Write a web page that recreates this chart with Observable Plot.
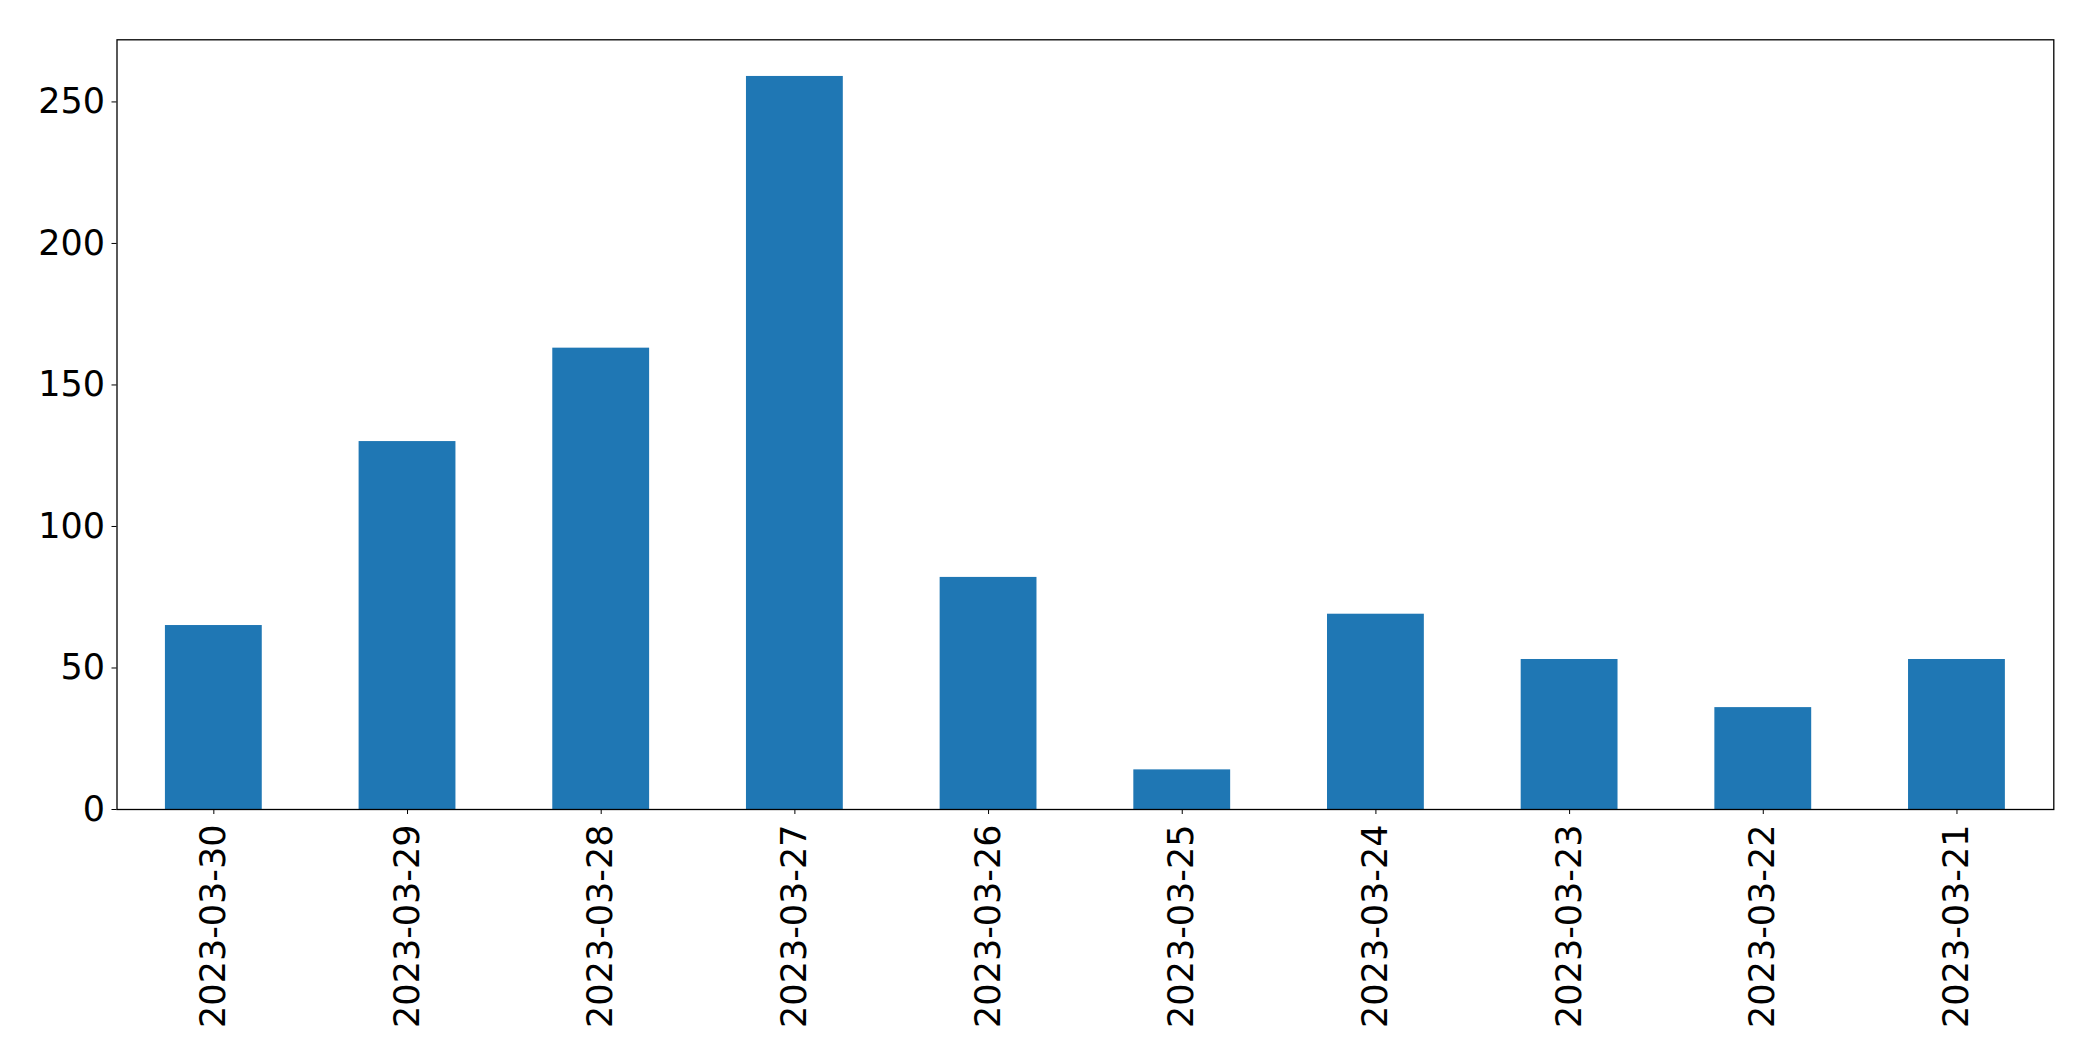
<!DOCTYPE html>
<html>
<head>
<meta charset="utf-8">
<script src="https://cdn.jsdelivr.net/npm/d3@7"></script>
<script src="https://cdn.jsdelivr.net/npm/@observablehq/plot@0.6"></script>
<style>
  html, body { margin: 0; padding: 0; background: #fff; }
  #chart svg { display: block; }
</style>
</head>
<body>
<div id="chart"></div>
<script>
const dates = ["2023-03-30", "2023-03-29", "2023-03-28", "2023-03-27", "2023-03-26",
               "2023-03-25", "2023-03-24", "2023-03-23", "2023-03-22", "2023-03-21"];
const counts = [65, 130, 163, 259, 82, 14, 69, 53, 36, 53];
const yTicks = [0, 50, 100, 150, 200, 250];

const data = dates.map((d, i) => ({date: d, count: counts[i]}));

const chart = Plot.plot({
  width: 2093,
  height: 1061,
  marginLeft: 116.5,
  marginRight: 39.7,
  marginTop: 39.3,
  marginBottom: 252,
  style: {fontFamily: "'DejaVu Sans', sans-serif", fontSize: "35px", color: "#000", background: "#fff"},
  x: {domain: dates, paddingInner: 0.5, paddingOuter: 0.25, round: false, label: null},
  y: {domain: [0, 259 * 1.05], label: null},
  marks: [
    Plot.barY(data, {x: "date", y: "count", fill: "#1f77b4"}),
    Plot.axisY({ticks: yTicks, tickSize: 5, tickPadding: 7, label: null, fontSize: 35}),
    Plot.axisX({tickSize: 5, tickPadding: 10, tickRotate: -90, label: null, fontSize: 35}),
    Plot.frame({stroke: "#000", strokeWidth: 1.3})
  ]
});
document.getElementById("chart").appendChild(chart);
</script>
</body>
</html>
